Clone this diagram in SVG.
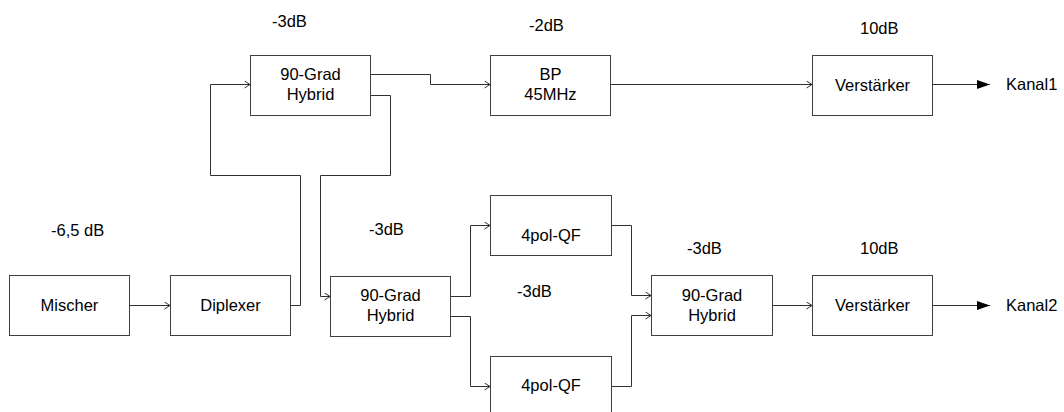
<svg xmlns="http://www.w3.org/2000/svg" width="1064" height="412" viewBox="0 0 1064 412">
<defs>
<style>
.box{fill:#fff;stroke:#404040;stroke-width:1}
.t{font-family:"Liberation Sans",Arial,sans-serif;font-size:16.5px;fill:#000;text-anchor:middle}
.l{font-family:"Liberation Sans",Arial,sans-serif;font-size:16.5px;fill:#000}
.c{fill:none;stroke:#303030;stroke-width:1}
</style>
<marker id="open" markerUnits="userSpaceOnUse" markerWidth="8" markerHeight="10" refX="6" refY="4" orient="auto" viewBox="0 0 8 10">
<path d="M0.5,0.5 L6,4 L0.5,7.5" fill="none" stroke="#303030" stroke-width="1"/>
</marker>
<marker id="fill" markerUnits="userSpaceOnUse" markerWidth="14" markerHeight="10" refX="13" refY="4.5" orient="auto" viewBox="0 0 14 10">
<path d="M0,0 L13,4.5 L0,9 Z" fill="#000"/>
</marker>
</defs>
<rect width="1064" height="412" fill="#fff"/>

<g id="connectors">
<polyline class="c" points="129,305.5 170,305.5" marker-end="url(#open)"/>
<polyline class="c" points="290,305.5 300.5,305.5 300.5,175.5 210.5,175.5 210.5,84.5 250,84.5" marker-end="url(#open)"/>
<polyline class="c" points="370,74.5 430.5,74.5 430.5,84.5 490,84.5" marker-end="url(#open)"/>
<polyline class="c" points="370,95.5 390.5,95.5 390.5,175.5 320.5,175.5 320.5,296.5 330,296.5" marker-end="url(#open)"/>
<polyline class="c" points="610,84.5 812,84.5" marker-end="url(#open)"/>
<polyline class="c" points="932,84.5 990,84.5" marker-end="url(#fill)"/>
<polyline class="c" points="450,296.5 470.5,296.5 470.5,225.5 490,225.5" marker-end="url(#open)"/>
<polyline class="c" points="450,316.5 470.5,316.5 470.5,386.5 490,386.5" marker-end="url(#open)"/>
<polyline class="c" points="611,225.5 631.5,225.5 631.5,295.5 651,295.5" marker-end="url(#open)"/>
<polyline class="c" points="611,386.5 631.5,386.5 631.5,315.5 651,315.5" marker-end="url(#open)"/>
<polyline class="c" points="772,305.5 812,305.5" marker-end="url(#open)"/>
<polyline class="c" points="932,305.5 990,305.5" marker-end="url(#fill)"/>
</g>

<g id="hybrid1">
<rect class="box" x="250.5" y="55.5" width="120" height="60"/>
<text class="t" x="310.5" y="80">90-Grad</text>
<text class="t" x="310.5" y="100">Hybrid</text>
</g>
<g id="bp">
<rect class="box" x="490.5" y="55.5" width="120" height="60"/>
<text class="t" x="550.5" y="80">BP</text>
<text class="t" x="550.5" y="100">45MHz</text>
</g>
<g id="verstaerker1">
<rect class="box" x="812.5" y="55.5" width="120" height="60"/>
<text class="t" x="872.5" y="91">Verstärker</text>
</g>
<g id="mischer">
<rect class="box" x="9.5" y="275.5" width="120" height="60"/>
<text class="t" x="69.5" y="311">Mischer</text>
</g>
<g id="diplexer">
<rect class="box" x="170.5" y="275.5" width="120" height="60"/>
<text class="t" x="230.5" y="311">Diplexer</text>
</g>
<g id="hybrid2">
<rect class="box" x="330.5" y="276.5" width="120" height="60"/>
<text class="t" x="390.5" y="301">90-Grad</text>
<text class="t" x="390.5" y="321">Hybrid</text>
</g>
<g id="qf1">
<rect class="box" x="490.5" y="195.5" width="121" height="60"/>
<text class="t" x="551" y="241">4pol-QF</text>
</g>
<g id="qf2">
<rect class="box" x="490.5" y="356.5" width="121" height="60"/>
<text class="t" x="551" y="391">4pol-QF</text>
</g>
<g id="hybrid3">
<rect class="box" x="651.5" y="275.5" width="121" height="60"/>
<text class="t" x="712" y="301">90-Grad</text>
<text class="t" x="712" y="321">Hybrid</text>
</g>
<g id="verstaerker2">
<rect class="box" x="812.5" y="275.5" width="120" height="60"/>
<text class="t" x="872.5" y="311">Verstärker</text>
</g>

<g id="labels">
<text class="l" x="1006" y="90">Kanal1</text>
<text class="l" x="1006" y="311">Kanal2</text>
<text class="l" x="272" y="27">-3dB</text>
<text class="l" x="529" y="31">-2dB</text>
<text class="l" x="860" y="34">10dB</text>
<text class="l" x="51" y="236">-6,5 dB</text>
<text class="l" x="369" y="235">-3dB</text>
<text class="l" x="517" y="297">-3dB</text>
<text class="l" x="687" y="254">-3dB</text>
<text class="l" x="860" y="254">10dB</text>
</g>
</svg>
